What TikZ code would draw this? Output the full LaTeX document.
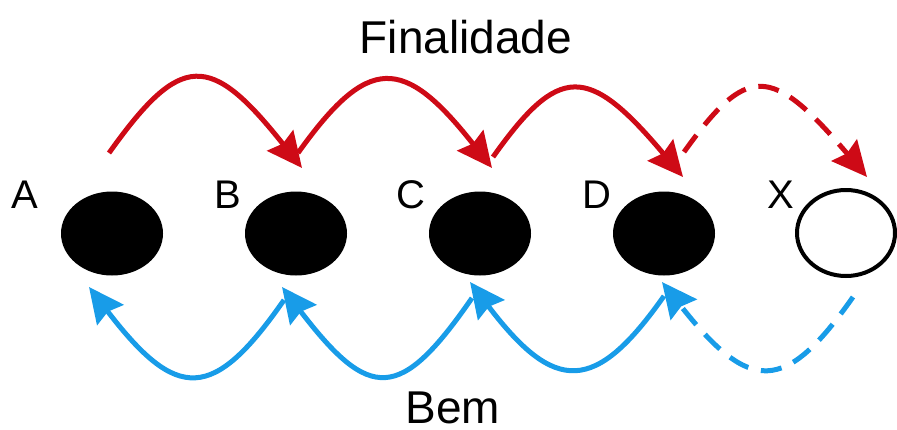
\documentclass[tikz,border=0pt]{standalone}
\usepackage{fontspec}
\setmainfont{Liberation Sans}
\usetikzlibrary{shapes.geometric,arrows.meta}
\definecolor{redarc}{RGB}{206,10,22}
\definecolor{bluearc}{RGB}{24,156,232}
\tikzset{
  dot/.style={ellipse,fill=black,minimum width=102pt,minimum height=84pt,inner sep=0pt},
  opendot/.style={ellipse,draw=black,line width=4pt,fill=white,minimum width=98pt,minimum height=86pt,inner sep=0pt},
  letter/.style={anchor=base,font=\fontsize{40}{48}\selectfont,inner sep=0pt},
  title/.style={anchor=base,font=\fontsize{46}{55}\selectfont,inner sep=0pt},
  redline/.style={draw=redarc,line width=5pt,-{Stealth[length=35pt,width=33pt,inset=4pt]}},
  blueline/.style={draw=bluearc,line width=5pt,-{Stealth[length=35pt,width=33pt,inset=4pt]}},
  dashline/.style={dash pattern=on 21pt off 13pt}
}
\begin{document}
\begin{tikzpicture}[x=1pt,y=-1pt]
\useasboundingbox (0,0) rectangle (897,429);
% nodes
\node[dot] (A) at (112,233.5) {};
\node[dot] (B) at (296,233.5) {};
\node[dot] (C) at (480,233.5) {};
\node[dot] (D) at (664,233.5) {};
\node[opendot] (X) at (846,233) {};
\node[letter] (lA) at (25,208) {A};
\node[letter] (lB) at (228,208) {B};
\node[letter] (lC) at (411,208) {C};
\node[letter] (lD) at (597,208) {D};
\node[letter] (lX) at (781,208) {X};
\node[title] (fin) at (466,53) {Finalidade};
\node[title] (bem) at (453,423) {Bem};
% red arc endpoints
\coordinate (r1s) at (109,153);
\coordinate (r1e) at (302,168);
\coordinate (r2s) at (298,153);
\coordinate (r2e) at (492,168);
\coordinate (r3s) at (493,157);
\coordinate (r3e) at (683,177);
\coordinate (r4s) at (684,152);
\coordinate (r4e) at (867,177);
% blue arc endpoints
\coordinate (b1s) at (284,300);
\coordinate (b1e) at (89,287);
\coordinate (b2s) at (472,298);
\coordinate (b2e) at (282,287);
\coordinate (b3s) at (664,296);
\coordinate (b3e) at (470,282);
\coordinate (b4s) at (853,297);
\coordinate (b4e) at (662,282);
% red arcs
\draw[redline] (r1s) .. controls (181,52) and (210,52) .. (r1e);
\draw[redline] (r2s) .. controls (368,55) and (403,55) .. (r2e);
\draw[redline] (r3s) .. controls (559,64) and (588,64) .. (r3e);
\draw[redline,dashline] (r4s) .. controls (747,64) and (771,64) .. (r4e);
% blue arcs
\draw[blueline] (b1s) .. controls (213,402) and (177,402) .. (b1e);
\draw[blueline] (b2s) .. controls (400,402) and (370,402) .. (b2e);
\draw[blueline] (b3s) .. controls (595,394) and (555,394) .. (b3e);
\draw[blueline,dashline] (b4s) .. controls (785,394) and (750,394) .. (b4e);
\end{tikzpicture}
\end{document}
